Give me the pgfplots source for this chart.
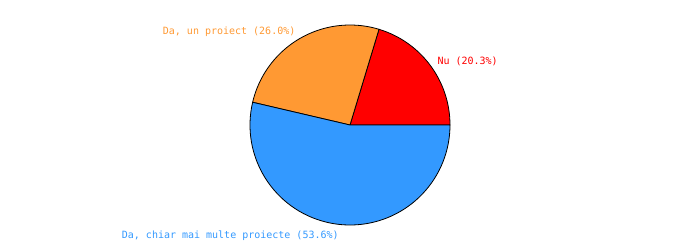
\documentclass[border=0pt]{standalone}
\usepackage{pgfplots}
\usepackage{pgfplotstable}
\pgfplotsset{compat=1.18}
\usepackage{fontspec}
\setmonofont{DejaVu Sans Mono}
\definecolor{cNu}{HTML}{FF0000}
\definecolor{cUn}{HTML}{FF9933}
\definecolor{cMulte}{HTML}{3399FF}
\pgfplotstableread{
label value
Nu 20.3
Un 26.0
Multe 53.6
}\piedata
\begin{document}
\begin{tikzpicture}
\pgfplotstablegetelem{0}{value}\of\piedata \pgfmathsetmacro{\vA}{\pgfplotsretval}
\pgfplotstablegetelem{1}{value}\of\piedata \pgfmathsetmacro{\vB}{\pgfplotsretval}
\pgfplotstablegetelem{2}{value}\of\piedata \pgfmathsetmacro{\vC}{\pgfplotsretval}
\pgfmathsetmacro{\tot}{\vA+\vB+\vC}
\pgfmathsetmacro{\aA}{360*\vA/\tot}
\pgfmathsetmacro{\aB}{\aA+360*\vB/\tot}
\begin{axis}[
  width=700pt, height=250pt, scale only axis,
  xmin=0, xmax=700, ymin=0, ymax=250,
  hide axis, clip=false,
]
\path[draw=none, fill=none] (axis cs:0,0) rectangle (axis cs:700,250);
\fill[cNu, draw=black, line width=0.8pt] (axis cs:350,125) -- ++(0:100pt) arc[start angle=0, end angle=\aA, radius=100pt] -- cycle;
\fill[cUn, draw=black, line width=0.8pt] (axis cs:350,125) -- ++(\aA:100pt) arc[start angle=\aA, end angle=\aB, radius=100pt] -- cycle;
\fill[cMulte, draw=black, line width=0.8pt] (axis cs:350,125) -- ++(\aB:100pt) arc[start angle=\aB, end angle=360, radius=100pt] -- cycle;
\node[anchor=base west, inner sep=0pt, text=cUn, font=\ttfamily\fontsize{10}{12}\selectfont] at (axis cs:162.7,215.5) {Da, un proiect (26.0\%)};
\node[anchor=base west, inner sep=0pt, text=cNu, font=\ttfamily\fontsize{10}{12}\selectfont] at (axis cs:437.3,186) {Nu (20.3\%)};
\node[anchor=base west, inner sep=0pt, text=cMulte, font=\ttfamily\fontsize{10}{12}\selectfont] at (axis cs:121.7,12) {Da, chiar mai multe proiecte (53.6\%)};
\end{axis}
\end{tikzpicture}
\end{document}
